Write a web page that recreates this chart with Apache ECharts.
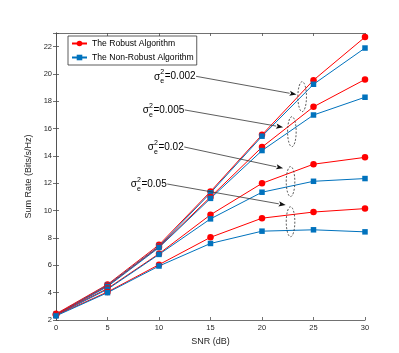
<!DOCTYPE html>
<html>
<head>
<meta charset="utf-8">
<script src="https://cdn.jsdelivr.net/npm/echarts@6/dist/echarts.min.js"></script>
<style>
  html, body { margin: 0; padding: 0; background: #fff; }
  #chart { width: 399px; height: 353px; }
</style>
</head>
<body>
<div id="chart"></div>
<script>
const snr = [0, 5, 10, 15, 20, 25, 30];
const robust002 = [2.45, 4.6, 7.5, 11.4, 15.55, 19.55, 22.7];
const nonRobust002 = [2.4, 4.55, 7.4, 11.3, 15.45, 19.25, 21.9];
const robust005 = [2.4, 4.5, 7.35, 11.0, 14.65, 17.6, 19.6];
const nonRobust005 = [2.35, 4.45, 7.3, 10.9, 14.4, 17.0, 18.3];
const robust02 = [2.4, 4.3, 6.85, 9.7, 12.0, 13.4, 13.9];
const nonRobust02 = [2.35, 4.25, 6.8, 9.4, 11.35, 12.15, 12.35];
const robust05 = [2.35, 4.05, 6.05, 8.05, 9.45, 9.9, 10.15];
const nonRobust05 = [2.3, 4.0, 5.95, 7.6, 8.5, 8.6, 8.45];

// annotation labels: text, label anchor (data), arrow tip (data), ellipse centre (data)
const noteLabels = ['0.002', '0.005', '0.02', '0.05'];
const noteStart = [[13.6, 19.83], [12.5, 17.37], [12.45, 14.66], [10.8, 11.95]];
const noteTip = [[23.35, 18.5], [22.05, 16.1], [22.05, 13.1], [22.3, 10.41]];
const noteEllipse = [[23.9, 18.34], [22.9, 15.78], [22.77, 12.13], [22.77, 9.19]];

const RED = '#ff0000';
const BLUE = '#0072bd';
const AXIS = '#4d4d4d';
const FONT = '"Liberation Sans", Arial, sans-serif';

const chart = echarts.init(document.getElementById('chart'), null, { renderer: 'canvas' });

function pairs(ys) { return snr.map((x, i) => [x, ys[i]]); }

function robustSeries(ys) {
  return {
    name: 'The Robust Algorithm', type: 'line', data: pairs(ys),
    symbol: 'circle', symbolSize: 6.5, animation: false,
    lineStyle: { color: RED, width: 1 }, itemStyle: { color: RED }
  };
}
function nonRobustSeries(ys) {
  return {
    name: 'The Non-Robust Algorithm', type: 'line', data: pairs(ys),
    symbol: 'rect', symbolSize: 5.5, animation: false,
    lineStyle: { color: BLUE, width: 1 }, itemStyle: { color: BLUE }
  };
}

const xBase = {
  type: 'value', min: 0, max: 30, interval: 5,
  axisLine: { lineStyle: { color: AXIS, width: 0.8 } },
  axisTick: { inside: true, length: 3, lineStyle: { color: AXIS, width: 0.8 } },
  splitLine: { show: false }
};
const yBase = {
  type: 'value', min: 2, max: 23, interval: 2,
  axisLine: { show: true, lineStyle: { color: AXIS, width: 0.8 } },
  axisTick: { show: true, inside: true, length: 3, lineStyle: { color: AXIS, width: 0.8 } },
  splitLine: { show: false }
};

chart.setOption({
  backgroundColor: '#fff',
  animation: false,
  grid: { left: 56, right: 34, top: 33, bottom: 33 },
  legend: {
    data: ['The Robust Algorithm', 'The Non-Robust Algorithm'],
    orient: 'vertical', left: 68, top: 36,
    itemWidth: 15, itemHeight: 7, itemGap: 5,
    padding: [3, 3, 3, 3],
    borderColor: '#333', borderWidth: 0.8, backgroundColor: '#fff',
    textStyle: { fontFamily: FONT, fontSize: 8.6, color: '#000' }
  },
  xAxis: [
    Object.assign({}, xBase, {
      position: 'bottom', name: 'SNR (dB)', nameLocation: 'middle', nameGap: 13,
      nameTextStyle: { fontFamily: FONT, fontSize: 9, color: '#262626' },
      axisLabel: { fontFamily: FONT, fontSize: 7.5, color: '#262626', margin: 4 }
    }),
    Object.assign({}, xBase, { position: 'top', axisLabel: { show: false } })
  ],
  yAxis: [
    Object.assign({}, yBase, {
      position: 'left', name: 'Sum Rate (Bits/s/Hz)', nameLocation: 'middle', nameGap: 13,
      nameTextStyle: { fontFamily: FONT, fontSize: 9, color: '#262626' },
      axisLabel: {
        fontFamily: FONT, fontSize: 7.5, color: '#262626', margin: 4,
        formatter: v => (v % 2 === 0 ? String(v) : '')
      }
    }),
    Object.assign({}, yBase, { position: 'right', axisLabel: { show: false } })
  ],
  series: [
    robustSeries(robust002), nonRobustSeries(nonRobust002),
    robustSeries(robust005), nonRobustSeries(nonRobust005),
    robustSeries(robust02), nonRobustSeries(nonRobust02),
    robustSeries(robust05), nonRobustSeries(nonRobust05)
  ]
});

// annotations: arrows, dashed ellipses, sigma labels
function textWidth(str, size) {
  const c = document.createElement('canvas').getContext('2d');
  c.font = size + 'px ' + FONT;
  return c.measureText(str).width;
}

const graphics = [];
noteLabels.forEach((lab, i) => {
  const p0 = chart.convertToPixel({ gridIndex: 0 }, noteStart[i]);
  const p1 = chart.convertToPixel({ gridIndex: 0 }, noteTip[i]);
  const pe = chart.convertToPixel({ gridIndex: 0 }, noteEllipse[i]);
  const dx = p1[0] - p0[0], dy = p1[1] - p0[1];
  const len = Math.hypot(dx, dy);
  const ux = dx / len, uy = dy / len;
  const hl = 7, hw = 2.6;
  const bx = p1[0] - ux * hl, by = p1[1] - uy * hl;
  graphics.push({
    type: 'line', z: 10,
    shape: { x1: p0[0], y1: p0[1], x2: bx, y2: by },
    style: { stroke: '#333', lineWidth: 0.8 }
  });
  graphics.push({
    type: 'polygon', z: 10,
    shape: { points: [[p1[0], p1[1]], [bx - uy * hw, by + ux * hw], [bx + ux * 1.5, by + uy * 1.5], [bx + uy * hw, by - ux * hw]] },
    style: { fill: '#111' }
  });
  graphics.push({
    type: 'ellipse', z: 10,
    shape: { cx: pe[0], cy: pe[1], rx: 4.3, ry: 15 },
    style: { fill: null, stroke: '#333', lineWidth: 0.8, lineDash: [2, 1.6] }
  });
  const eq = '=' + lab;
  const wEq = textWidth(eq, 10);
  const xEq = p0[0] - wEq - 0.5;
  graphics.push({
    type: 'text', z: 10, x: xEq, y: p0[1],
    style: { text: eq, fontFamily: FONT, fontSize: 10, fill: '#000', verticalAlign: 'middle', align: 'left' }
  });
  graphics.push({
    type: 'text', z: 10, x: xEq - 0.5, y: p0[1] - 4,
    style: { text: '2', fontFamily: FONT, fontSize: 7, fill: '#000', verticalAlign: 'middle', align: 'right' }
  });
  graphics.push({
    type: 'text', z: 10, x: xEq - 0.5, y: p0[1] + 5,
    style: { text: 'e', fontFamily: FONT, fontSize: 7, fill: '#000', verticalAlign: 'middle', align: 'right' }
  });
  graphics.push({
    type: 'text', z: 10, x: xEq - 4.5, y: p0[1] + 0.5,
    style: { text: 'σ', fontFamily: FONT, fontSize: 10, fill: '#000', verticalAlign: 'middle', align: 'right' }
  });
});
chart.setOption({ graphic: graphics });
</script>
</body>
</html>
